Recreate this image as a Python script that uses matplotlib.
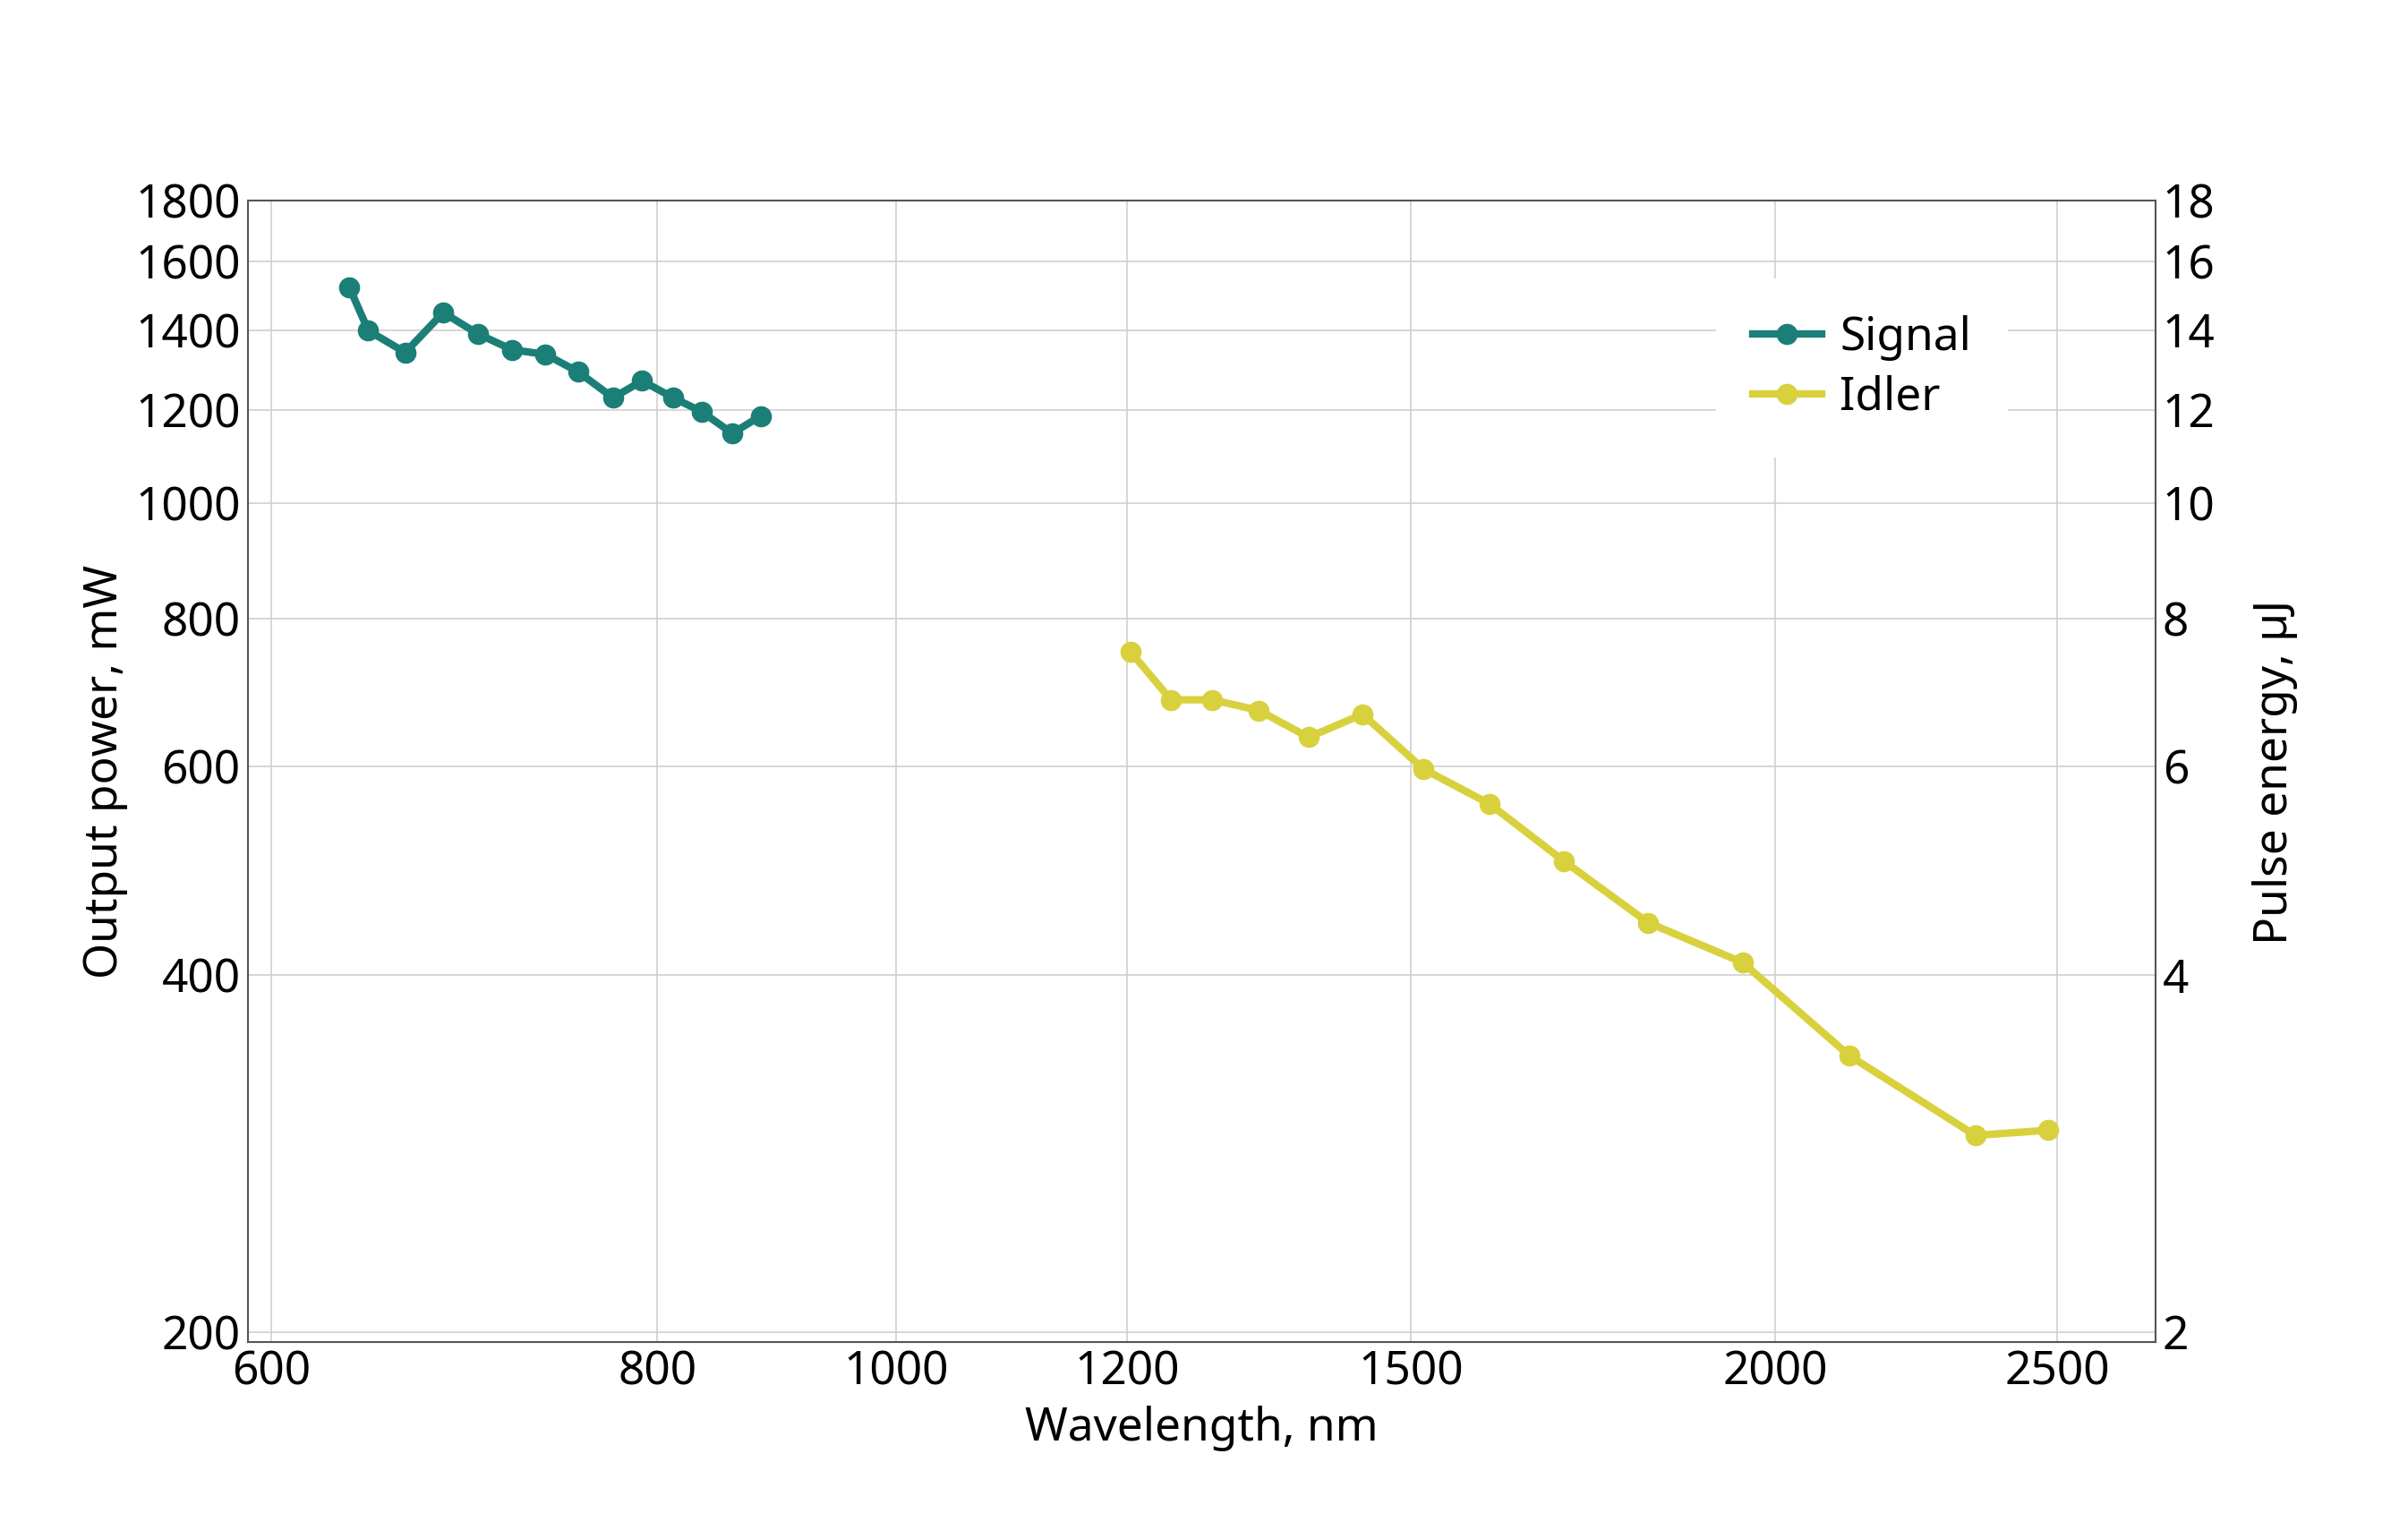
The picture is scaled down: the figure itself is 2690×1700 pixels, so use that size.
import numpy as np
import matplotlib
matplotlib.use("Agg")
import matplotlib.pyplot as plt
from matplotlib.ticker import FixedLocator, FixedFormatter, NullLocator

signal_wl = [636, 645, 663, 682, 700, 718, 736, 754, 774, 791, 812, 834, 858, 881]
signal_pw = [1521, 1399, 1341, 1449, 1390, 1348, 1336, 1292, 1228, 1269, 1228, 1195, 1146, 1185]
idler_wl = [1203, 1242, 1283, 1331, 1384, 1444, 1515, 1596, 1693, 1809, 1949, 2121, 2343, 2482]
idler_pw = [750, 683, 683, 669, 635, 664, 597, 558, 499, 443, 410, 342, 293, 296]
xticks = [600, 800, 1000, 1200, 1500, 2000, 2500]
yticks = [200, 400, 600, 800, 1000, 1200, 1400, 1600, 1800]
yticks_r = [2, 4, 6, 8, 10, 12, 14, 16, 18]

# axis scale as drawn in the reference (piecewise log)
knot_l = np.log10(np.array(xticks, float))
knot_p = np.array([175, 424, 578, 727, 910, 1145, 1327], float)

def fwd(x):
    lx = np.log10(np.clip(np.asarray(x, float), 1e-9, None))
    out = np.interp(lx, knot_l, knot_p)
    s0 = (knot_p[1]-knot_p[0])/(knot_l[1]-knot_l[0])
    s1 = (knot_p[-1]-knot_p[-2])/(knot_l[-1]-knot_l[-2])
    out = np.where(lx < knot_l[0], knot_p[0] + (lx-knot_l[0])*s0, out)
    out = np.where(lx > knot_l[-1], knot_p[-1] + (lx-knot_l[-1])*s1, out)
    return out

def inv(p):
    p = np.asarray(p, float)
    lx = np.interp(p, knot_p, knot_l)
    s0 = (knot_p[1]-knot_p[0])/(knot_l[1]-knot_l[0])
    s1 = (knot_p[-1]-knot_p[-2])/(knot_l[-1]-knot_l[-2])
    lx = np.where(p < knot_p[0], knot_l[0] + (p-knot_p[0])/s0, lx)
    lx = np.where(p > knot_p[-1], knot_l[-1] + (p-knot_p[-1])/s1, lx)
    return 10**lx

FS = 37
plt.rcParams['font.family'] = ['Noto Sans', 'DejaVu Sans']
fig = plt.figure(figsize=(26.9, 17), dpi=100)
ax = fig.add_axes([0.103, 0.118, 0.792, 0.750])
ax.set_xscale('function', functions=(fwd, inv))
ax.set_yscale('log')
ax.set_xlim(float(inv(160)), float(inv(1390)))
ax.set_ylim(196, 1800)

sig_c = '#1b7f78'
idl_c = '#d8d13d'
ax.plot(signal_wl, signal_pw, '-o', color=sig_c, lw=6, ms=16, label='Signal', zorder=3)
ax.plot(idler_wl, idler_pw, '-o', color=idl_c, lw=6, ms=16, label='Idler', zorder=3)

ax.xaxis.set_major_locator(FixedLocator(xticks))
ax.xaxis.set_major_formatter(FixedFormatter([str(t) for t in xticks]))
ax.xaxis.set_minor_locator(NullLocator())
ax.yaxis.set_major_locator(FixedLocator(yticks))
ax.yaxis.set_major_formatter(FixedFormatter([str(t) for t in yticks]))
ax.yaxis.set_minor_locator(NullLocator())
ax.grid(True, color='#d0d0d0', lw=1.2)
ax.set_axisbelow(True)
ax.tick_params(length=0, labelsize=FS, pad=6)
for s in ax.spines.values():
    s.set_color('#555555'); s.set_linewidth(1.5)
ax.set_xlabel('Wavelength, nm', fontsize=FS, labelpad=8)
ax.set_ylabel('Output power, mW', fontsize=FS, labelpad=6)

ax2 = ax.twinx()
ax2.set_yscale('log')
ax2.set_ylim(1.96, 18)
ax2.yaxis.set_major_locator(FixedLocator(yticks_r))
ax2.yaxis.set_major_formatter(FixedFormatter([str(t) for t in yticks_r]))
ax2.yaxis.set_minor_locator(NullLocator())
ax2.tick_params(length=0, labelsize=FS, pad=6)
for s in ax2.spines.values():
    s.set_visible(False)
ax2.set_ylabel('Pulse energy, µJ', fontsize=FS, labelpad=30)

leg = ax.legend(loc='upper right', bbox_to_anchor=(0.935, 0.952), fontsize=FS,
                frameon=True, framealpha=1, edgecolor='white', borderpad=0.8,
                handlelength=1.5, handletextpad=0.4, labelspacing=0.3)
leg.get_frame().set_linewidth(0)
fig.savefig('out.png', dpi=100)
